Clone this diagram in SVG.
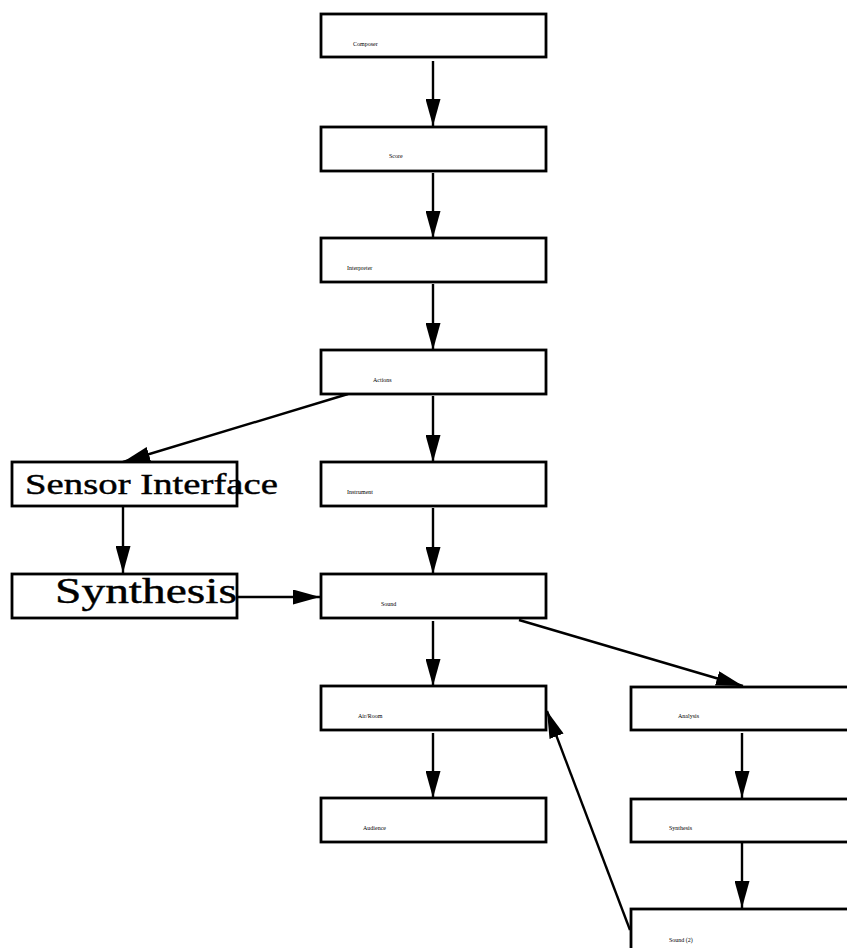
<svg xmlns="http://www.w3.org/2000/svg" width="847" height="948" viewBox="0 0 847 948">
<style>
.box{fill:#fff;stroke:#000;stroke-width:2.8}
.lbl{font-family:"Liberation Serif","Times New Roman",serif;font-size:6px;fill:#000}
.big{font-family:"Liberation Serif","Times New Roman",serif;fill:#000;stroke:#000;stroke-width:0.4}
.edge{stroke:#000;stroke-width:2.4;fill:none;marker-end:url(#ah)}
</style>
<defs>
<marker id="ah" markerUnits="userSpaceOnUse" markerWidth="27" markerHeight="15" refX="27" refY="7.5" orient="auto">
<path d="M0,0 L27,7.5 L0,15 Z" fill="#000"/>
</marker>
</defs>
<rect width="847" height="948" fill="#fff"/>
<g id="connectors">
<line class="edge" x1="433" y1="61" x2="433" y2="126"/>
<line class="edge" x1="433" y1="173" x2="433" y2="238"/>
<line class="edge" x1="433" y1="284" x2="433" y2="350"/>
<line class="edge" x1="433" y1="396" x2="433" y2="462"/>
<line class="edge" x1="433" y1="508" x2="433" y2="574"/>
<line class="edge" x1="433" y1="621" x2="433" y2="686"/>
<line class="edge" x1="433" y1="733" x2="433" y2="798"/>
<line class="edge" x1="348" y1="394" x2="123" y2="462"/>
<line class="edge" x1="123" y1="507" x2="123" y2="573"/>
<line class="edge" x1="237" y1="597" x2="320" y2="597"/>
<line class="edge" x1="519" y1="620" x2="743" y2="686"/>
<line class="edge" x1="742" y1="733" x2="742" y2="798"/>
<line class="edge" x1="742" y1="843" x2="742" y2="908"/>
<line class="edge" x1="630" y1="930" x2="547" y2="711"/>
</g>
<g id="composer"><rect class="box" x="321" y="14" width="225" height="43"/><text class="lbl" x="353" y="46">Composer</text></g>
<g id="score"><rect class="box" x="321" y="127" width="225" height="44"/><text class="lbl" x="389" y="158">Score</text></g>
<g id="interpreter"><rect class="box" x="321" y="238" width="225" height="44"/><text class="lbl" x="347" y="270">Interpreter</text></g>
<g id="actions"><rect class="box" x="321" y="350" width="225" height="44"/><text class="lbl" x="373" y="382">Actions</text></g>
<g id="instrument"><rect class="box" x="321" y="462" width="225" height="44"/><text class="lbl" x="347" y="494">Instrument</text></g>
<g id="sound"><rect class="box" x="321" y="574" width="225" height="44"/><text class="lbl" x="381" y="606">Sound</text></g>
<g id="airroom"><rect class="box" x="321" y="686" width="225" height="44"/><text class="lbl" x="358" y="718">Air/Room</text></g>
<g id="audience"><rect class="box" x="321" y="798" width="225" height="44"/><text class="lbl" x="363" y="830">Audience</text></g>
<g id="sensor"><rect class="box" x="12" y="462" width="225" height="44"/><text class="big" x="25" y="494" font-size="29" textLength="253" lengthAdjust="spacingAndGlyphs">Sensor Interface</text></g>
<g id="synthesis1"><rect class="box" x="12" y="574" width="225" height="44"/><text class="big" x="55" y="603" font-size="35" textLength="182" lengthAdjust="spacingAndGlyphs">Synthesis</text></g>
<g id="analysis"><rect class="box" x="631" y="687" width="225" height="43"/><text class="lbl" x="678" y="718">Analysis</text></g>
<g id="synthesis2"><rect class="box" x="631" y="799" width="225" height="43"/><text class="lbl" x="669" y="830">Synthesis</text></g>
<g id="sound2"><rect class="box" x="631" y="909" width="225" height="44"/><text class="lbl" x="669" y="942">Sound (2)</text></g>
</svg>
